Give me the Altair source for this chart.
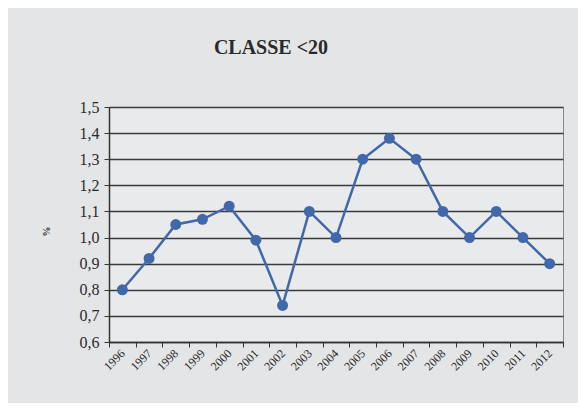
import altair as alt
import pandas as pd

years = [str(y) for y in range(1996, 2013)]
values = [0.80, 0.92, 1.05, 1.07, 1.12, 0.99, 0.74, 1.10, 1.00, 1.30, 1.38, 1.30, 1.10, 1.00, 1.10, 1.00, 0.90]

df = pd.DataFrame({"anno": years, "valore": values})

blue = "#4168aa"
font = "Liberation Serif"

x = alt.X(
    "anno:O",
    scale=alt.Scale(type="band", paddingInner=0, paddingOuter=0),
    bandPosition=0.5,
    axis=alt.Axis(
        title=None,
        labelAngle=-45,
        labelAlign="right",
        labelBaseline="middle",
        labelFontSize=12,
        labelFont=font,
        labelColor="#2a2a2a",
        labelPadding=4,
        tickBand="extent",
        tickSize=5,
        tickColor="#333333",
        domainColor="#333333",
        domainWidth=1.5,
        grid=False,
    ),
)
y = alt.Y(
    "valore:Q",
    scale=alt.Scale(domain=[0.6, 1.5], nice=False, zero=False),
    axis=alt.Axis(
        values=[0.6, 0.7, 0.8, 0.9, 1.0, 1.1, 1.2, 1.3, 1.4, 1.5],
        labelExpr="replace(format(datum.value, '.1f'), '.', ',')",
        labelFontSize=16,
        labelFont=font,
        labelColor="#2a2a2a",
        labelPadding=5,
        tickSize=5,
        tickColor="#333333",
        domainColor="#333333",
        domainWidth=1.5,
        grid=True,
        gridColor="#3a3a3a",
        gridWidth=1.5,
        title="%",
        titleFont=font,
        titleFontSize=10,
        titleFontWeight="bold",
        titleColor="#333333",
        titleAngle=-90,
        titleX=-58,
        titleY=124,
    ),
)

line = alt.Chart(df).mark_line(color=blue, strokeWidth=2.5).encode(x=x, y=y)
points = alt.Chart(df).mark_circle(color=blue, size=120, opacity=1).encode(x=x, y=y)

chart = (
    alt.layer(line, points)
    .properties(
        width=454,
        height=235,
        title=alt.Title(
            "CLASSE <20",
            font=font,
            fontSize=20,
            fontWeight="bold",
            color="#2a2a2a",
            anchor="middle",
            dx=-65,
            offset=41,
        ),
        autosize=alt.AutoSizeParams(type="none"),
        padding={"left": 101, "top": 99, "right": 15, "bottom": 61},
        background="#e4e5e7",
    )
    .configure_view(stroke="#888888", strokeWidth=1, fill="#e9eaeb")
)

chart.save("out.html", embed_options={"renderer": "svg", "actions": False})
